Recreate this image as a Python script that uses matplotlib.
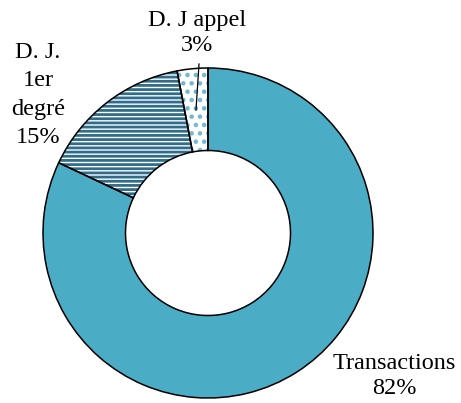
import matplotlib
matplotlib.use("Agg")
import matplotlib.pyplot as plt

labels = ["Transactions", "D. J.\n1er\ndegré", "D. J appel"]
values = [82, 15, 3]
pct_labels = ["82%", "15%", "3%"]

fill_colors = ["#4BACC6", "white", "white"]
hatch_colors = ["#4BACC6", "#2F6D8A", "#6FB8D2"]
hatches = [None, "----", ".."]

plt.rcParams["font.family"] = ["Liberation Serif", "DejaVu Serif"]
plt.rcParams["hatch.linewidth"] = 2.0

W, H = 461, 403
fig = plt.figure(figsize=(W / 100, H / 100), dpi=100)
cx, cy, r = 208, 233, 165
ax = fig.add_axes([(cx - r) / W, (H - cy - r) / H, 2 * r / W, 2 * r / H])

wedges, _ = ax.pie(values, startangle=90, counterclock=False, radius=1,
                   colors=fill_colors,
                   wedgeprops=dict(width=0.5, linewidth=0))
for w, hc, h in zip(wedges, hatch_colors, hatches):
    w.set_clip_on(False)
    if h:
        w.set_hatch(h)
        w.set_edgecolor(hc)
        w.set_linewidth(0)

outl, _ = ax.pie(values, startangle=90, counterclock=False, radius=1,
                 colors=["none"] * 3,
                 wedgeprops=dict(width=0.5, linewidth=1.1, edgecolor="black", facecolor="none"))
for w in outl:
    w.set_clip_on(False)

ax.set_xlim(-1, 1)
ax.set_ylim(-1, 1)
ax.axis("off")

def px(x, y):
    return ((x - cx) / r, (cy - y) / r)

fs = 17.5
x, y = px(394, 376)
ax.text(x, y, labels[0] + "\n" + pct_labels[0], ha="center", va="center",
        fontsize=fs, linespacing=1.2, clip_on=False)
x, y = px(38, 95)
ax.text(x, y, labels[1] + "\n" + pct_labels[1], ha="center", va="center",
        fontsize=fs, linespacing=1.45, clip_on=False)
x, y = px(197, 33)
ax.text(x, y, labels[2] + "\n" + pct_labels[2], ha="center", va="center",
        fontsize=fs, linespacing=1.25, clip_on=False)

# leader line for the small slice
x0, y0 = px(199, 64)
x1, y1 = px(196, 110)
ax.plot([x0, x1], [y0, y1], color="black", linewidth=0.9, clip_on=False)

fig.savefig("out.png", dpi=100)
